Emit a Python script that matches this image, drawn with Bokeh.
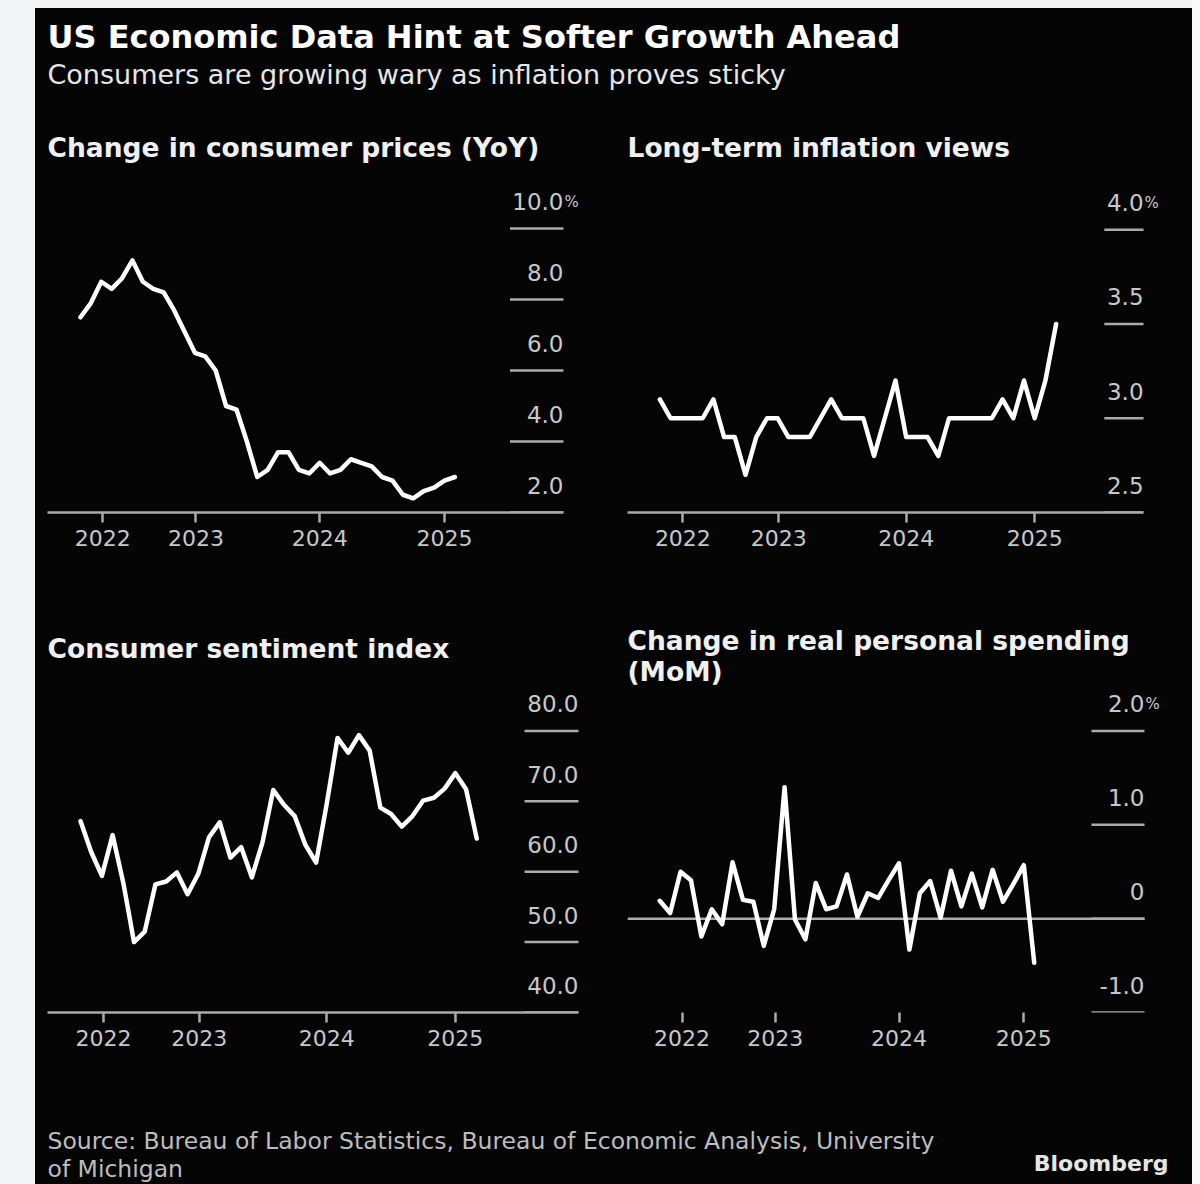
import pandas as pd
from bokeh.plotting import figure
from bokeh.layouts import row, column
from bokeh.models import FixedTicker, Label, ColumnDataSource, Range1d
from bokeh.embed import file_html
from bokeh.resources import INLINE
from bokeh.core.properties import value

# ---------------- data ----------------
months_to_jan25 = pd.period_range("2022-01", "2025-01", freq="M")   # 37 months
months_to_feb25 = pd.period_range("2022-01", "2025-02", freq="M")   # 38 months

cpi_yoy = [7.5, 7.9, 8.5, 8.3, 8.6, 9.1, 8.5, 8.3, 8.2, 7.7, 7.1, 6.5,
           6.4, 6.0, 5.0, 4.9, 4.0, 3.0, 3.2, 3.7, 3.7, 3.2, 3.1, 3.4,
           3.1, 3.2, 3.5, 3.4, 3.3, 3.0, 2.9, 2.5, 2.4, 2.6, 2.7, 2.9,
           3.0]

long_term_inflation = [3.1, 3.0, 3.0, 3.0, 3.0, 3.1, 2.9, 2.9, 2.7, 2.9, 3.0, 3.0,
                       2.9, 2.9, 2.9, 3.0, 3.1, 3.0, 3.0, 3.0, 2.8, 3.0, 3.2, 2.9,
                       2.9, 2.9, 2.8, 3.0, 3.0, 3.0, 3.0, 3.0, 3.1, 3.0, 3.2, 3.0,
                       3.2, 3.5]

sentiment = [67.2, 62.8, 59.4, 65.2, 58.4, 50.0, 51.5, 58.2, 58.6, 59.9, 56.8, 59.7,
             64.9, 67.0, 62.0, 63.5, 59.2, 64.2, 71.6, 69.5, 67.9, 63.8, 61.3, 69.7,
             79.0, 76.9, 79.4, 77.2, 69.1, 68.2, 66.4, 67.9, 70.1, 70.5, 71.8, 74.0,
             71.7, 64.7]

real_spending_mom = [0.19, 0.06, 0.50, 0.41, -0.19, 0.10, -0.06, 0.60, 0.20, 0.18, -0.29, 0.10,
                     1.40, -0.01, -0.22, 0.38, 0.10, 0.13, 0.47, 0.02, 0.27, 0.22, 0.41, 0.59,
                     -0.33, 0.27, 0.40, 0.01, 0.51, 0.13, 0.48, 0.12, 0.52, 0.18, 0.37, 0.57,
                     -0.47]

year_ticks = [2.15, 11.1, 23.0, 35.0]          # months since Jan 2022
year_labels = ["2022", "2023", "2024", "2025"]

cpi_ticks = [2.0, 4.0, 6.0, 8.0, 10.0]
cpi_tick_labels = ["2.0", "4.0", "6.0", "8.0", "10.0"]
lt_ticks = [2.5, 3.0, 3.5, 4.0]
lt_tick_labels = ["2.5", "3.0", "3.5", "4.0"]
sent_ticks = [40.0, 50.0, 60.0, 70.0, 80.0]
sent_tick_labels = ["40.0", "50.0", "60.0", "70.0", "80.0"]
spend_ticks = [-1.0, 0.0, 1.0, 2.0]
spend_tick_labels = ["-1.0", "0", "1.0", "2.0"]


def month_index(periods):
    return [(p.year - 2022) * 12 + (p.month - 1) for p in periods]


# ---------------- style ----------------
BG = "#050505"
LIGHT = "#f4f5f6"
AXIS = "#ababab"
TICKTXT = "#c8c8c8"
FONT = "DejaVu Sans"
CSS_BG = {"background-color": BG}


def blank(width, height, color):
    p = figure(width=width, height=height, x_range=Range1d(0, 1), y_range=Range1d(0, 1),
               output_backend="svg", toolbar_location=None,
               min_border_left=0, min_border_right=0, min_border_top=0, min_border_bottom=0,
               background_fill_color=color, border_fill_color=color, outline_line_color=None,
               styles={"background-color": color})
    p.axis.visible = False
    p.grid.visible = False
    return p


def panel(width, height, left, right, bottom, xr, yr, axis_end, short_start,
          xs, ys, yticks, ylabels, pct, title_lines, title_ys,
          axis_line=True, zero_line=False):
    p = figure(width=width, height=height, x_range=Range1d(*xr), y_range=Range1d(*yr),
               output_backend="svg", toolbar_location=None, y_axis_location=None,
               min_border_left=left, min_border_right=right,
               min_border_top=0, min_border_bottom=bottom,
               background_fill_color=BG, border_fill_color=BG, outline_line_color=None,
               styles=CSS_BG)
    p.xgrid.visible = False
    p.ygrid.visible = False
    ax = p.xaxis[0]
    ax.ticker = FixedTicker(ticks=year_ticks)
    ax.major_label_overrides = dict(zip(year_ticks, year_labels))
    ax.bounds = (xr[0], axis_end)
    ax.axis_line_color = AXIS if axis_line else None
    ax.axis_line_width = 2.5
    ax.major_tick_line_color = AXIS
    ax.major_tick_line_width = 2.5
    ax.major_tick_in = 0
    ax.major_tick_out = 10
    ax.minor_tick_in = 0
    ax.minor_tick_out = 0
    ax.major_label_standoff = 7
    ax.major_label_text_color = TICKTXT
    ax.major_label_text_font = FONT
    ax.major_label_text_font_size = "22px"

    # short right-hand gridlines under the value labels
    gsrc = ColumnDataSource(dict(x0=[short_start] * len(yticks), x1=[axis_end] * len(yticks),
                                 y=yticks))
    p.segment(x0="x0", y0="y", x1="x1", y1="y", source=gsrc,
              line_color=AXIS, line_width=2.5)
    if zero_line:
        p.segment(x0=[xr[0]], y0=[0.0], x1=[axis_end], y1=[0.0],
                  line_color=AXIS, line_width=2.5)

    lsrc = ColumnDataSource(dict(x=[axis_end] * len(yticks), y=yticks, text=ylabels))
    p.text(x="x", y="y", text="text", source=lsrc, text_align="right",
           text_baseline="alphabetic", y_offset=-27, text_color=TICKTXT,
           text_font=value(FONT), text_font_size="23px")
    if pct:
        p.text(x=[axis_end], y=[yticks[-1]], text=["%"], text_align="left",
               text_baseline="alphabetic", x_offset=1, y_offset=-27, text_color=TICKTXT,
               text_font=value(FONT), text_font_size="15px")

    p.line(xs, ys, line_color="white", line_width=4.5, line_join="round", line_cap="round")

    for t, ty in zip(title_lines, title_ys):
        p.add_layout(Label(x=0, y=ty, x_units="screen", y_units="screen", text=t,
                           text_font=FONT, text_font_style="bold", text_font_size="26.5px",
                           text_color="#f0f0f0", text_baseline="alphabetic"))
    return p


x37 = month_index(months_to_jan25)
x38 = month_index(months_to_feb25)

p1 = panel(578, 482, 12, 23, 88, (-3.17, 49.04), (2.0, 13.099), 46.44, 41.3,
           x37, cpi_yoy, cpi_ticks, cpi_tick_labels, True,
           ["Change in consumer prices (YoY)"], [365])
p2 = panel(579, 482, 14, 22, 88, (-3.02, 47.68), (2.5, 4.590), 45.16, 41.5,
           x38, long_term_inflation, lt_ticks, lt_tick_labels, True,
           ["Long-term inflation views"], [365])
p3 = panel(578, 470, 12, 23, 58, (-3.08, 47.62), (40.0, 98.52), 46.5, 41.46,
           x38, sentiment, sent_ticks, sent_tick_labels, False,
           ["Consumer sentiment index"], [364])
p4 = panel(579, 470, 14, 22, 58, (-3.1, 49.1), (-1.0, 3.389), 46.6, 41.5,
           x37, real_spending_mom, spend_ticks, spend_tick_labels, True,
           ["Change in real personal spending", "(MoM)"], [372, 341],
           axis_line=False, zero_line=True)

header = blank(1157, 110, BG)
header.add_layout(Label(x=12, y=82, x_units="screen", y_units="screen",
                        text="US Economic Data Hint at Softer Growth Ahead",
                        text_font=FONT, text_font_style="bold", text_font_size="32px",
                        text_color="#ffffff", text_baseline="alphabetic"))
header.add_layout(Label(x=12, y=44, x_units="screen", y_units="screen",
                        text="Consumers are growing wary as inflation proves sticky",
                        text_font=FONT, text_font_size="27px",
                        text_color="#e6e6e6", text_baseline="alphabetic"))

footer = blank(1157, 114, BG)
footer.add_layout(Label(x=12, y=44, x_units="screen", y_units="screen",
                        text="Source: Bureau of Labor Statistics, Bureau of Economic Analysis, University",
                        text_font=FONT, text_font_size="23.5px",
                        text_color="#bdbdbd", text_baseline="alphabetic"))
footer.add_layout(Label(x=12, y=16, x_units="screen", y_units="screen",
                        text="of Michigan",
                        text_font=FONT, text_font_size="23.5px",
                        text_color="#bdbdbd", text_baseline="alphabetic"))
footer.add_layout(Label(x=1133, y=21, x_units="screen", y_units="screen",
                        text="Bloomberg", text_align="right",
                        text_font=FONT, text_font_style="bold", text_font_size="22px",
                        text_color="#e6e6e6", text_baseline="alphabetic"))

top_strip = blank(1157, 8, LIGHT)
left_strip = blank(35, 1184, LIGHT)
right_strip = blank(8, 1184, "#fafafa")

main = column(top_strip, header, row(p1, p2, styles=CSS_BG), row(p3, p4, styles=CSS_BG),
              footer, styles=CSS_BG)
layout = row(left_strip, main, right_strip)

open("out.html", "w").write(file_html(layout, INLINE))
